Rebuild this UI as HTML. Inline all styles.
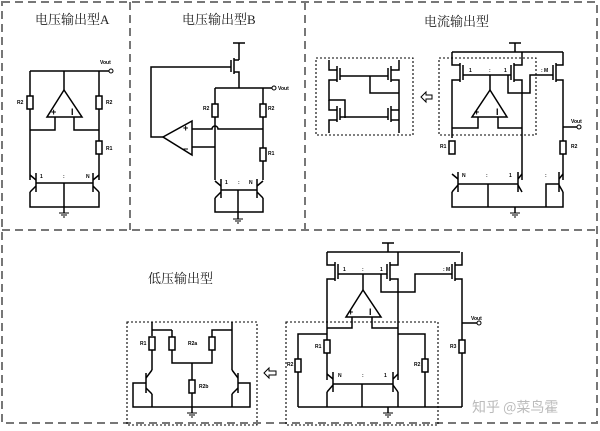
<!DOCTYPE html>
<html><head><meta charset="utf-8">
<style>
html,body{margin:0;padding:0;background:#fff;}
svg{display:block;}
.t{font-family:"Liberation Serif","Noto Serif CJK SC",serif;font-size:13px;fill:#222;}
.s{font-family:"Liberation Sans",sans-serif;font-size:5px;fill:#000;font-weight:bold;}
</style></head><body>
<svg width="600" height="431" viewBox="0 0 600 431" xmlns="http://www.w3.org/2000/svg">
<g fill="none" stroke="#777" stroke-width="2" stroke-dasharray="8,5">
<rect x="2" y="2" width="595" height="421"/>
<line x1="130" y1="2" x2="130" y2="230"/>
<line x1="305" y1="2" x2="305" y2="230"/>
<line x1="2" y1="230" x2="597" y2="230"/>
</g>
<g fill="none" stroke="#000" stroke-width="1.1" stroke-dasharray="2,2">
<rect x="316" y="58" width="97" height="77"/>
<rect x="439" y="58" width="97" height="77"/>
<rect x="127" y="322" width="130" height="103"/>
<rect x="286" y="322" width="152" height="103"/>
</g>
<text class="t" x="35" y="24">电压输出型A</text>
<text class="t" x="182" y="24">电压输出型B</text>
<text class="t" x="424" y="26">电流输出型</text>
<text class="t" x="148" y="283">低压输出型</text>
<text x="472" y="412" style="font-family:'Noto Sans CJK SC',sans-serif;font-size:14px;fill:#bbb">知乎 @菜鸟霍</text>

<g fill="none" stroke="#000" stroke-width="1.5">
<polyline points="30,71 110,71"/>
<line x1="30" y1="71" x2="30" y2="180"/>
<line x1="99" y1="71" x2="99" y2="180"/>
<line x1="64" y1="71" x2="64" y2="90"/>
<polygon points="64,90 47,117 82,117" fill="#fff"/>
<polyline points="55,117 55,130 30,130"/>
<polyline points="74,117 74,130 99,130"/>
<rect x="27" y="96" width="6" height="13" fill="#fff"/>
<rect x="96" y="96" width="6" height="13" fill="#fff"/>
<rect x="96" y="141" width="6" height="13" fill="#fff"/>
<line x1="36" y1="173" x2="36" y2="192"/><line x1="30" y1="175" x2="36" y2="180"/><line x1="36" y1="186" x2="30" y2="192"/>
<line x1="93" y1="173" x2="93" y2="192"/><line x1="99" y1="175" x2="93" y2="180"/><line x1="93" y1="186" x2="99" y2="192"/>
<line x1="36" y1="183" x2="93" y2="183"/>
<polyline points="30,192 30,207 99,207 99,192"/>
<line x1="64" y1="183" x2="64" y2="213"/>
<line x1="233" y1="43" x2="245" y2="43"/>
<line x1="239" y1="43" x2="239" y2="60"/>
<line x1="234" y1="58" x2="234" y2="74"/>
<line x1="231" y1="60" x2="231" y2="72"/>
<polyline points="234,60 239,60"/><polyline points="234,72 239,72 239,88"/>
<polyline points="231,67 151,67 151,137 163,137"/>
<line x1="215" y1="88" x2="272" y2="88"/>
<line x1="215" y1="88" x2="215" y2="180"/>
<line x1="263" y1="88" x2="263" y2="180"/>
<rect x="212" y="104" width="6" height="13" fill="#fff"/>
<rect x="260" y="104" width="6" height="13" fill="#fff"/>
<rect x="260" y="148" width="6" height="13" fill="#fff"/>
<polygon points="163,137 192,121 192,155" fill="#fff"/>
<path d="M192,129 H212 a3,3 0 0 1 6,0 H263"/>
<line x1="192" y1="147" x2="215" y2="147"/>
<line x1="221" y1="179" x2="221" y2="198"/><line x1="215" y1="181" x2="221" y2="186"/><line x1="221" y1="192" x2="215" y2="198"/>
<line x1="257" y1="179" x2="257" y2="198"/><line x1="263" y1="181" x2="257" y2="186"/><line x1="257" y1="192" x2="263" y2="198"/>
<line x1="221" y1="190" x2="257" y2="190"/>
<polyline points="215,198 215,212 263,212 263,198"/>
<line x1="238" y1="190" x2="238" y2="219"/>
<line x1="509" y1="43" x2="521" y2="43"/><line x1="515" y1="43" x2="515" y2="52"/>
<line x1="452" y1="52" x2="563" y2="52"/>
<polyline points="452,52 452,65 460,65"/><line x1="460" y1="63" x2="460" y2="82"/><line x1="463" y1="65" x2="463" y2="80"/><polyline points="460,80 452,80 452,138"/>
<polyline points="522,52 522,65 514,65"/><line x1="514" y1="63" x2="514" y2="82"/><line x1="511" y1="65" x2="511" y2="80"/><polyline points="514,80 522,80 522,180"/>
<polyline points="563,52 563,65 556,65"/><line x1="556" y1="63" x2="556" y2="82"/><line x1="553" y1="65" x2="553" y2="80"/><polyline points="556,80 563,80 563,180"/>
<line x1="463" y1="75" x2="511" y2="75"/>
<polyline points="508,75 508,93 522,93"/>
<path d="M522,93 H530 V75 H553"/>
<line x1="490" y1="75" x2="490" y2="90"/>
<polygon points="490,90 472,117 507,117" fill="#fff"/>
<polyline points="478,117 478,128 452,128"/>
<polyline points="498,117 498,128 522,128"/>
<line x1="563" y1="127" x2="577" y2="127"/>
<rect x="449" y="141" width="6" height="13" fill="#fff"/>
<rect x="560" y="141" width="6" height="13" fill="#fff"/>
<line x1="458" y1="172" x2="458" y2="192"/><line x1="452" y1="174" x2="458" y2="179"/><line x1="458" y1="185" x2="452" y2="192"/>
<line x1="518" y1="172" x2="518" y2="192"/><line x1="522" y1="174" x2="518" y2="179"/><line x1="518" y1="185" x2="522" y2="192"/>
<line x1="559" y1="172" x2="559" y2="192"/><line x1="563" y1="174" x2="559" y2="179"/><line x1="559" y1="185" x2="563" y2="192"/>
<line x1="458" y1="184" x2="518" y2="184"/>
<line x1="488" y1="184" x2="488" y2="207"/>
<polyline points="546,207 546,184 559,184"/>
<polyline points="452,192 452,207 563,207 563,192"/>
<line x1="515" y1="207" x2="515" y2="213"/>
<polyline points="329,60 329,70 337,70"/><line x1="337" y1="66" x2="337" y2="82"/><line x1="340" y1="68" x2="340" y2="80"/><polyline points="337,80 329,80 329,100 345,100 345,118"/>
<polyline points="399,60 399,70 391,70"/><line x1="391" y1="66" x2="391" y2="82"/><line x1="388" y1="68" x2="388" y2="80"/><polyline points="391,80 399,80 399,133"/>
<line x1="340" y1="76" x2="388" y2="76"/>
<polyline points="370,76 370,93 399,93"/>
<polyline points="329,100 329,110 337,110"/><line x1="337" y1="106" x2="337" y2="122"/><line x1="340" y1="108" x2="340" y2="120"/><polyline points="337,120 329,120 329,133"/>
<polyline points="399,110 391,110"/><line x1="391" y1="106" x2="391" y2="122"/><line x1="388" y1="108" x2="388" y2="120"/><polyline points="391,120 399,120"/>
<line x1="340" y1="117" x2="388" y2="117"/>
<line x1="382" y1="243" x2="394" y2="243"/><line x1="388" y1="243" x2="388" y2="252"/>
<line x1="327" y1="252" x2="460" y2="252"/>
<polyline points="327,252 327,265 335,265"/><line x1="335" y1="262" x2="335" y2="281"/><line x1="338" y1="264" x2="338" y2="279"/><polyline points="335,279 327,279 327,380"/>
<polyline points="398,252 398,265 390,265"/><line x1="390" y1="262" x2="390" y2="281"/><line x1="387" y1="264" x2="387" y2="279"/><polyline points="390,279 398,279 398,380"/>
<polyline points="462,252 462,265 455,265"/><line x1="455" y1="262" x2="455" y2="281"/><line x1="452" y1="264" x2="452" y2="279"/><polyline points="455,279 462,279 462,407"/>
<line x1="338" y1="274" x2="387" y2="274"/>
<polyline points="381,274 381,292 398,292"/>
<path d="M398,292 H415 V274 H452"/>
<line x1="363" y1="274" x2="363" y2="290"/>
<polygon points="363,290 346,317 381,317" fill="#fff"/>
<polyline points="352,317 352,328 327,328"/>
<polyline points="372,317 372,328 398,328"/>
<line x1="462" y1="323" x2="477" y2="323"/>
<polyline points="327,334 298,334 298,407"/>
<polyline points="398,334 425,334 425,407"/>
<rect x="324" y="340" width="6" height="13" fill="#fff"/>
<rect x="295" y="359" width="6" height="13" fill="#fff"/>
<rect x="422" y="359" width="6" height="13" fill="#fff"/>
<rect x="459" y="340" width="6" height="13" fill="#fff"/>
<line x1="333" y1="372" x2="333" y2="392"/><line x1="327" y1="374" x2="333" y2="379"/><line x1="333" y1="385" x2="327" y2="392"/>
<line x1="393" y1="372" x2="393" y2="392"/><line x1="398" y1="374" x2="393" y2="379"/><line x1="393" y1="385" x2="398" y2="392"/>
<line x1="333" y1="384" x2="393" y2="384"/>
<line x1="362" y1="384" x2="362" y2="407"/>
<polyline points="327,392 327,407"/><polyline points="398,392 398,407"/>
<line x1="298" y1="407" x2="462" y2="407"/>
<line x1="388" y1="407" x2="388" y2="413"/>
<polyline points="152,322 152,336"/><line x1="152" y1="330" x2="172" y2="330"/>
<line x1="152" y1="350" x2="152" y2="370"/>
<polyline points="172,330 172,363 212,363 212,330 232,330"/><line x1="232" y1="322" x2="232" y2="370"/>
<line x1="192" y1="363" x2="192" y2="407"/>
<rect x="149" y="337" width="6" height="13" fill="#fff"/>
<rect x="169" y="337" width="6" height="13" fill="#fff"/>
<rect x="209" y="337" width="6" height="13" fill="#fff"/>
<rect x="189" y="380" width="6" height="13" fill="#fff"/>
<line x1="146" y1="373" x2="146" y2="393"/><line x1="152" y1="370" x2="146" y2="378"/><line x1="146" y1="388" x2="152" y2="394"/><line x1="152" y1="394" x2="152" y2="407"/>
<polyline points="146,383 133,383 133,407 250,407 250,383 238,383"/>
<line x1="238" y1="373" x2="238" y2="393"/><line x1="232" y1="370" x2="238" y2="378"/><line x1="238" y1="388" x2="232" y2="394"/><line x1="232" y1="394" x2="232" y2="407"/>
<line x1="192" y1="407" x2="192" y2="413"/>
</g>
<g stroke="#000" stroke-width="1">
<line x1="59" y1="213" x2="69" y2="213"/><line x1="61" y1="215" x2="67" y2="215"/><line x1="63" y1="217" x2="65" y2="217"/>
<line x1="233" y1="219" x2="243" y2="219"/><line x1="235" y1="221" x2="241" y2="221"/><line x1="237" y1="223" x2="239" y2="223"/>
<line x1="510" y1="213" x2="520" y2="213"/><line x1="512" y1="215" x2="518" y2="215"/><line x1="514" y1="217" x2="516" y2="217"/>
<line x1="383" y1="413" x2="393" y2="413"/><line x1="385" y1="415" x2="391" y2="415"/><line x1="387" y1="417" x2="389" y2="417"/>
<line x1="187" y1="413" x2="197" y2="413"/><line x1="189" y1="415" x2="195" y2="415"/><line x1="191" y1="417" x2="193" y2="417"/>
</g>
<g fill="#fff" stroke="#000" stroke-width="1">
<circle cx="111" cy="71" r="2"/><circle cx="274" cy="88" r="2"/><circle cx="579" cy="127" r="2"/><circle cx="479" cy="323" r="2"/>
</g>
<g fill="#fff" stroke="#000" stroke-width="1">
<polygon points="421,97 426,92 426,95 432,95 432,99 426,99 426,102"/>
<polygon points="264,373 269,368 269,371 276,371 276,375 269,375 269,378"/>
</g>
<g class="s" style="font-size:9px">
<text x="51" y="115">+</text><text x="71" y="115">I</text>
<text x="183" y="131">+</text><text x="183" y="152">−</text>
<text x="474" y="115">+</text><text x="496" y="115">I</text>
<text x="348" y="315">+</text><text x="369" y="315">I</text>
</g>
<g class="s">
<text x="100" y="64">Vout</text><text x="278" y="90">Vout</text><text x="571" y="123">Vout</text><text x="471" y="320">Vout</text>
<text x="17" y="104">R2</text><text x="106" y="104">R2</text><text x="106" y="150">R1</text>
<text x="40" y="178">1</text><text x="63" y="178">:</text><text x="86" y="178">N</text>
<text x="203" y="110">R2</text><text x="268" y="110">R2</text><text x="268" y="155">R1</text>
<text x="225" y="184">1</text><text x="238" y="184">:</text><text x="249" y="184">N</text>
<text x="469" y="72">1</text><text x="489" y="72">:</text><text x="504" y="72">1</text><text x="541" y="72">: M</text>
<text x="440" y="148">R1</text><text x="571" y="148">R2</text>
<text x="462" y="177">N</text><text x="486" y="177">:</text><text x="509" y="177">1</text><text x="545" y="177">:</text>
<text x="343" y="271">1</text><text x="362" y="271">:</text><text x="380" y="271">1</text><text x="443" y="271">: M</text>
<text x="315" y="348">R1</text><text x="287" y="366">R2</text><text x="414" y="366">R2</text><text x="450" y="348">R3</text>
<text x="338" y="377">N</text><text x="362" y="377">:</text><text x="384" y="377">1</text>
<text x="140" y="345">R1</text><text x="188" y="345">R2a</text><text x="199" y="388">R2b</text>
</g>
</svg>
</body></html>
